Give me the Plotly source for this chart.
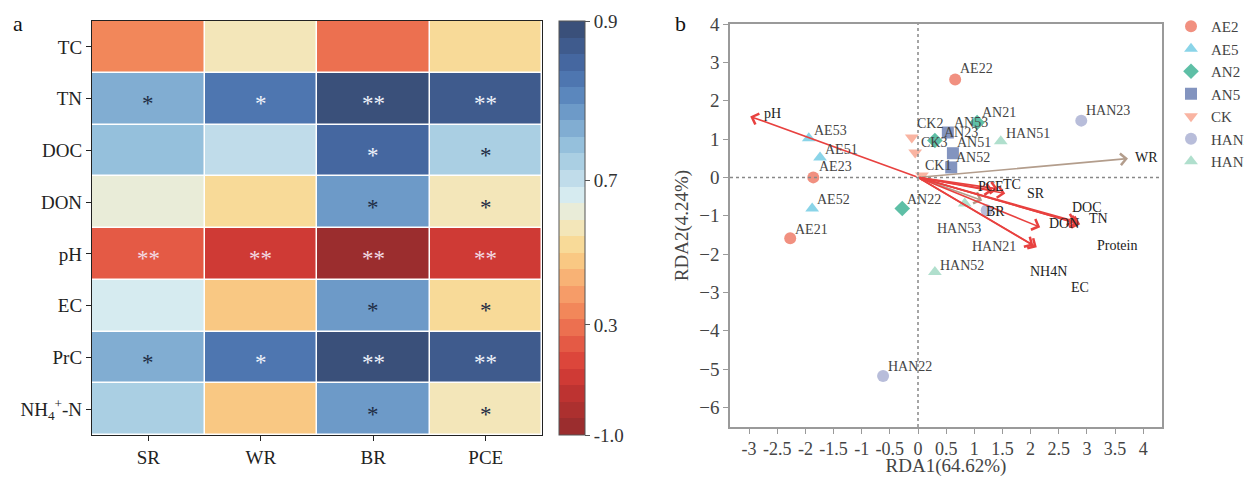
import numpy as np
import plotly.graph_objects as go

# ---------------- Panel a: correlation heatmap ----------------
responses = ["SR", "WR", "BR", "PCE"]
factors = ["TC", "TN", "DOC", "DON", "pH", "EC", "PrC", "NH<sub>4</sub><sup>+</sup>-N"]
corr = [
    [0.34, 0.57, 0.27, 0.52],
    [0.76, 0.83, 0.89, 0.87],
    [0.74, 0.70, 0.84, 0.72],
    [0.61, 0.52, 0.78, 0.57],
    [0.08, -0.32, -0.90, -0.30],
    [0.66, 0.48, 0.78, 0.52],
    [0.76, 0.83, 0.89, 0.87],
    [0.72, 0.48, 0.78, 0.57],
]
signif = [
    ["", "", "", ""],
    ["*", "*", "**", "**"],
    ["", "", "*", "*"],
    ["", "", "*", "*"],
    ["**", "**", "**", "**"],
    ["", "", "*", "*"],
    ["*", "*", "**", "**"],
    ["", "", "*", "*"],
]
cbar_ticks = [0.9, 0.7, 0.3, -1.0]
cbar_ticktext = ["0.9", "0.7", "0.3", "-1.0"]

# ---------------- Panel b: RDA biplot ----------------
groups = ["AE2", "AE5", "AN2", "AN5", "CK", "HAN2", "HAN5"]
sample_names = {
    "AE2": ["AE21", "AE22", "AE23"],
    "AE5": ["AE51", "AE52", "AE53"],
    "AN2": ["AN21", "AN22", "AN23"],
    "AN5": ["AN51", "AN52", "AN53"],
    "CK": ["CK1", "CK2", "CK3"],
    "HAN2": ["HAN21", "HAN22", "HAN23"],
    "HAN5": ["HAN51", "HAN52", "HAN53"],
}
rda1 = {
    "AE2": [-2.27, 0.66, -1.86],
    "AE5": [-1.74, -1.88, -1.94],
    "AN2": [1.05, -0.28, 0.30],
    "AN5": [0.62, 0.59, 0.53],
    "CK": [0.07, -0.11, -0.05],
    "HAN2": [1.22, -0.62, 2.90],
    "HAN5": [1.47, 0.30, 0.83],
}
rda2 = {
    "AE2": [-1.59, 2.55, 0.0],
    "AE5": [0.52, -0.81, 1.02],
    "AN2": [1.43, -0.81, 0.96],
    "AN5": [0.63, 0.26, 1.17],
    "CK": [0.05, 1.04, 0.65],
    "HAN2": [-0.86, -5.18, 1.48],
    "HAN5": [0.94, -2.47, -0.68],
}
env_vars = ["pH", "WR", "PCE", "TC", "SR", "BR", "DOC", "TN", "DON", "Protein", "NH4N", "EC"]
env_rda1 = [-2.98, 3.73, 1.33, 1.42, 1.55, 1.14, 2.80, 2.88, 2.17, 2.84, 2.11, 2.05]
env_rda2 = [1.59, 0.49, -0.34, -0.30, -0.42, -0.60, -1.15, -1.22, -1.30, -1.20, -1.82, -1.78]
env_label_x = [-2.58, 4.05, 1.30, 1.67, 2.10, 1.37, 3.00, 3.20, 2.59, 3.53, 2.31, 2.88]
env_label_y = [1.67, 0.52, -0.23, -0.18, -0.42, -0.89, -0.78, -1.07, -1.20, -1.77, -2.45, -2.86]
x_ticks = [-3, -2.5, -2, -1.5, -1, -0.5, 0, 0.5, 1, 1.5, 2, 2.5, 3, 3.5, 4]
y_ticks = [-6, -5, -4, -3, -2, -1, 0, 1, 2, 3, 4]

# ---------------- styling ----------------
SERIF = "Liberation Serif"
OFF = 8                      # browser body margin
W, H = 1252 - OFF, 477 - OFF
def px_x(p): return (p - OFF) / W
def px_y(p): return 1 - (p - OFF) / H

colors_bottom_to_top = [
    "#9b2d2e", "#ac302f", "#bd3331", "#cf3a35", "#dc463b", "#e45a45", "#ec7050",
    "#f2875a", "#f69c68", "#f8b275", "#f9c883", "#f8da98", "#f3e6b9", "#e9ecd8",
    "#d6ebf0", "#c0dcea", "#aacfe3", "#95c0dc", "#81add2", "#6d9ac8", "#5b87bd",
    "#4e76b0", "#4567a0", "#3f5b8d", "#3a507a",
]
n = len(colors_bottom_to_top)
colorscale = []
for i, c in enumerate(colors_bottom_to_top):
    colorscale.append([i / n, c])
    colorscale.append([(i + 1) / n, c])

anchor_vals = [-1.0, 0.3, 0.7, 0.9]
anchor_pos = [0.0, 0.266, 0.614, 1.0]
def to_pos(v):
    return np.interp(v, anchor_vals, anchor_pos)

zpos = to_pos(np.array(corr))

fig = go.Figure()
fig.add_trace(go.Heatmap(
    z=zpos, x=responses, y=factors, colorscale=colorscale, zmin=0, zmax=1,
    xgap=1.5, ygap=1.5, xaxis="x", yaxis="y", hoverinfo="skip", showlegend=False,
    colorbar=dict(
        x=px_x(559), xanchor="left", y=px_y(228), yanchor="middle", xpad=0, ypad=0,
        len=(435 - 21) / H, lenmode="fraction", thickness=26, thicknessmode="pixels",
        outlinecolor="#555", outlinewidth=1,
        tickvals=list(to_pos(np.array(cbar_ticks))), ticktext=cbar_ticktext,
        ticks="outside", ticklen=5, tickcolor="#555",
        tickfont=dict(family=SERIF, size=19, color="#333"),
    ),
))

annotations = []
for i, f in enumerate(factors):
    for j, r in enumerate(responses):
        s = signif[i][j]
        if s:
            v = corr[i][j]
            if v < 0.3:
                col = "#f3dbe4"
            elif v > 0.8:
                col = "#eef2fa"
            else:
                col = "#1f2d44"
            annotations.append(dict(x=r, y=f, xref="x", yref="y", text=s, showarrow=False,
                                    font=dict(family=SERIF, size=23, color=col), yshift=-5))

style = {
    "AE2": ("circle", "#ef8472"),
    "AE5": ("triangle-up", "#7dcfe6"),
    "AN2": ("diamond", "#4db89c"),
    "AN5": ("square", "#7688b8"),
    "CK": ("triangle-down", "#f8ac98"),
    "HAN2": ("circle", "#b0b6d6"),
    "HAN5": ("triangle-up", "#a7dcc8"),
}
label_offsets = {
    "AE21": (3, 9), "AE22": (3, 11), "AE23": (4, 11), "AE51": (3, 8), "AE52": (3, 9), "AE53": (3, 8),
    "AN21": (3, 10), "AN22": (3, 9), "AN23": (7, 8), "AN51": (2, 11), "AN52": (3, 10), "AN53": (4, 10),
    "CK1": (1, 10), "CK2": (3, 14), "CK3": (4, 10), "HAN21": (-17, -36), "HAN22": (3, 10),
    "HAN23": (3, 10), "HAN51": (3, 8), "HAN52": (3, 7), "HAN53": (-30, -25),
}

shapes = [
    dict(type="line", xref="x2", yref="y2 domain", x0=0, x1=0, y0=0, y1=1,
         line=dict(color="#888", width=1.5, dash="dot")),
    dict(type="line", xref="x2 domain", yref="y2", x0=0, x1=1, y0=0, y1=0,
         line=dict(color="#888", width=1.5, dash="dot")),
]

for v, ex, ey in zip(env_vars, env_rda1, env_rda2):
    col = "#b39d8c" if v in ("WR", "BR") else "#e8413f"
    annotations.append(dict(x=ex, y=ey, ax=0, ay=0, xref="x2", yref="y2", axref="x2", ayref="y2",
                            showarrow=True, arrowhead=4, arrowsize=1.4, arrowwidth=1.6,
                            arrowcolor=col, text=""))
for v, lx, ly in zip(env_vars, env_label_x, env_label_y):
    annotations.append(dict(x=lx, y=ly, xref="x2", yref="y2", text=v, showarrow=False,
                            font=dict(family=SERIF, size=14, color="#222")))

for g in groups:
    sym, col = style[g]
    fig.add_trace(go.Scatter(
        x=rda1[g], y=rda2[g], mode="markers", name=g, xaxis="x2", yaxis="y2",
        marker=dict(symbol=sym, color=col, size=12, opacity=0.9, line=dict(width=0)),
        hoverinfo="skip",
    ))
    for nm, sx, sy in zip(sample_names[g], rda1[g], rda2[g]):
        dx, dy = label_offsets[nm]
        annotations.append(dict(x=sx, y=sy, xref="x2", yref="y2", text=nm, showarrow=False,
                                xanchor="left", yanchor="middle", xshift=dx, yshift=dy,
                                font=dict(family=SERIF, size=14, color="#444")))

annotations.append(dict(x=px_x(18), y=px_y(24), xref="paper", yref="paper", text="a",
                        showarrow=False, xanchor="center", yanchor="middle",
                        font=dict(family=SERIF, size=22, color="#111")))
annotations.append(dict(x=px_x(680), y=px_y(23), xref="paper", yref="paper", text="b",
                        showarrow=False, xanchor="center", yanchor="middle",
                        font=dict(family=SERIF, size=22, color="#111")))

fig.update_layout(
    width=W, height=H, margin=dict(l=0, r=0, t=0, b=0, autoexpand=False),
    paper_bgcolor="white", plot_bgcolor="white",
    font=dict(family=SERIF, color="#222"),
    xaxis=dict(domain=[px_x(92), px_x(542)], anchor="y", showline=True, linecolor="#222",
               linewidth=1.2, mirror=True, ticks="outside", ticklen=5, tickcolor="#222",
               tickfont=dict(family=SERIF, size=19, color="#222"), showgrid=False, zeroline=False),
    yaxis=dict(domain=[px_y(435), px_y(21)], anchor="x", showline=True, linecolor="#222",
               linewidth=1.2, mirror=True, ticks="outside", ticklen=5, tickcolor="#222",
               autorange="reversed", tickfont=dict(family=SERIF, size=19, color="#222"),
               showgrid=False, zeroline=False),
    xaxis2=dict(domain=[px_x(730), px_x(1162)], anchor="y2",
                range=[(730 - 918) / 56.3, (1162 - 918) / 56.3],
                tickvals=x_ticks, ticktext=[f"{t:g}" for t in x_ticks], tickangle=0,
                showline=True, linecolor="#9a9a9a", linewidth=1.5, mirror=True,
                ticks="outside", ticklen=5, tickcolor="#9a9a9a",
                tickfont=dict(family=SERIF, size=18, color="#444"),
                showgrid=False, zeroline=False,
                title=dict(text="RDA1(64.62%)", font=dict(family=SERIF, size=19, color="#444"),
                           standoff=2)),
    yaxis2=dict(domain=[px_y(427), px_y(24)], anchor="x2", range=[-6.51, 4.0],
                tickvals=y_ticks, showline=True, linecolor="#9a9a9a", linewidth=1.5, mirror=True,
                ticks="outside", ticklen=5, tickcolor="#9a9a9a",
                tickfont=dict(family=SERIF, size=19, color="#444"),
                showgrid=False, zeroline=False,
                title=dict(text="RDA2(4.24%)", font=dict(family=SERIF, size=19, color="#444"),
                           standoff=6)),
    legend=dict(x=px_x(1171), y=px_y(10), xanchor="left", yanchor="top",
                font=dict(family=SERIF, size=15, color="#444"), bgcolor="rgba(0,0,0,0)",
                itemsizing="constant", tracegroupgap=0),
    showlegend=True,
    shapes=shapes, annotations=annotations,
)

fig.write_html("out.html")
